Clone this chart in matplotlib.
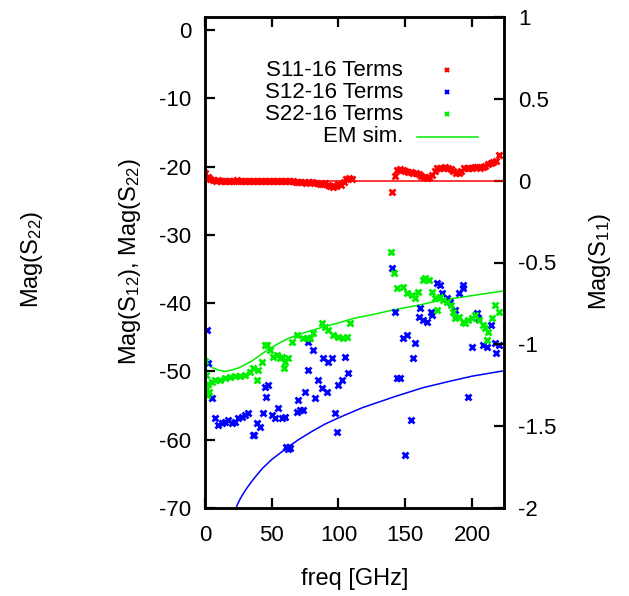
import matplotlib
matplotlib.use("Agg")
import matplotlib.pyplot as plt

plt.rcParams['font.family'] = ['Liberation Sans', 'DejaVu Sans']
plt.rcParams['mathtext.default'] = 'regular'
plt.rcParams['axes.unicode_minus'] = False

# S11 measured (right axis)
s11_freq = [0, 2, 4, 6, 8, 10, 12, 14, 16, 18, 20, 22, 24, 26, 28, 30, 32, 34, 36, 38,
            40, 42, 44, 46, 48, 50, 52, 54, 56, 58, 60, 62, 64, 66, 68, 70, 72, 74, 76, 78,
            80, 82, 84, 86, 88, 90, 92, 94, 96, 98, 100, 102, 104, 106, 108, 110,
            140, 142, 144, 146, 148, 150, 152, 154, 156, 158, 160, 162, 164, 166, 168, 170,
            172, 174, 176, 178, 180, 182, 184, 186, 188, 190, 192, 194, 196, 198, 200, 202,
            204, 206, 208, 210, 212, 214, 216, 218, 220]
s11_mag = [0.045, 0.02, 0.008, 0.003, 0.0, 0.002, 0.0, -0.002, 0.0, 0.001, -0.002, 0.0, 0.002, 0.0,
           0.001, -0.002, 0.0, -0.001, 0.0, -0.002, 0.0, 0.001, -0.002, -0.004, -0.002, 0.0, -0.003,
           -0.002, -0.004, -0.003, -0.002, -0.004, -0.005, -0.003, -0.006, -0.008, -0.006, -0.01,
           -0.012, -0.008, -0.01, -0.014, -0.012, -0.018, -0.02, -0.015, -0.025, -0.035, -0.04, -0.03,
           -0.02, -0.025, -0.01, 0.01, 0.015, 0.012,
           -0.068, 0.03, 0.065, 0.07, 0.065, 0.06, 0.055, 0.05, 0.047, 0.045, 0.04, 0.03, 0.02, 0.016,
           0.02, 0.035, 0.06, 0.075, 0.08, 0.078, 0.082, 0.08, 0.07, 0.06, 0.045, 0.045, 0.06, 0.075,
           0.08, 0.078, 0.08, 0.085, 0.082, 0.08, 0.085, 0.09, 0.1, 0.11, 0.112, 0.12, 0.155]

# S12 measured (left axis)
s12_freq = [1.5, 2.5, 5, 7.5, 10, 12.5, 15, 17.5, 20, 22.5, 25, 27.5, 30, 32, 36, 37, 39, 41,
            43.5, 45, 46, 47, 50, 52.5, 55, 58, 60, 61, 62, 63, 64, 69, 70, 71, 73.5, 75, 77,
            77.5, 81, 82.5, 85, 88, 88.5, 91.5, 92, 95, 97.5, 99, 100, 103, 105, 107.5,
            140, 142, 144, 146, 148, 150, 151, 154, 156, 157.5, 160, 161, 163.5, 166.5, 169,
            170, 174, 176, 177.5, 181.5, 183.5, 187.5, 190, 193, 193.5, 197, 200, 204, 204.5,
            208.5, 211.5, 214, 217.5, 218, 220]
s12_mag = [-43.9, -48.8, -53.9, -56.8, -57.8, -57.5, -57.4, -57.1, -57.5, -57.4, -56.8, -56.7,
           -56.4, -56.1, -59.3, -59.3, -57.5, -58.1, -56.1, -52.3, -53.7, -52.0, -56.4, -56.8,
           -55.3, -56.8, -56.7, -61.1, -61.3, -61.0, -61.2, -55.9, -54.2, -55.6, -55.6, -53.0,
           -49.8, -45.7, -46.9, -53.9, -51.2, -52.4, -48.0, -53.0, -48.6, -48.0, -56.1, -58.9,
           -52.0, -51.2, -47.9, -50.2,
           -34.8, -41.3, -51.0, -51.0, -45.1, -62.2, -44.7, -57.1, -48.0, -45.8, -42.0, -40.7,
           -42.5, -42.8, -41.3, -41.7, -37.0, -37.3, -38.5, -39.2, -39.8, -41.0, -38.5, -37.3,
           -37.8, -53.7, -46.4, -41.4, -42.2, -46.1, -46.4, -43.2, -45.8, -47.3, -46.1]

# S22 measured (left axis)
s22_freq = [0, 0.5, 1, 1.5, 2, 3, 5, 7.5, 11, 15, 19, 22.5, 26, 30, 34, 36, 39, 40, 43, 45,
            46.5, 49, 51, 54, 56, 58, 59, 60, 62, 65, 69, 73.5, 76.5, 79, 81, 88, 90, 92, 96,
            100, 103.5, 106.5, 109,
            139, 141.5, 144, 148, 151.5, 155, 157, 159.5, 163, 165, 167.5, 170, 172.5, 174,
            176, 178.5, 181.5, 184, 186, 187.5, 190, 193, 195, 197, 200, 202.5, 205, 208,
            210, 211.5, 212, 215, 217.5, 220]
s22_mag = [-48.5, -50.5, -52.7, -53.4, -51.8, -53.0, -51.5, -51.2, -51.2, -51.0, -50.8, -50.7,
           -50.7, -50.5, -50.1, -49.5, -51.2, -49.8, -48.6, -46.1, -46.1, -46.9, -47.9, -47.6,
           -48.0, -47.9, -49.5, -48.6, -48.0, -45.7, -44.7, -45.1, -45.1, -45.1, -44.4, -42.9,
           -43.5, -43.9, -44.7, -44.9, -45.1, -44.9, -42.9,
           -32.5, -35.6, -37.8, -37.6, -38.5, -38.8, -39.2, -38.4, -36.6, -36.3, -36.6, -38.4,
           -39.2, -41.0, -39.1, -39.5, -39.8, -40.3, -41.3, -42.2, -42.0, -42.8, -42.9, -42.5,
           -42.2, -41.7, -42.5, -43.2, -43.6, -45.4, -44.2, -42.2, -40.3, -41.3]

# EM simulation curves
em_s11_freq = [0, 224]
em_s11_mag = [0.0, 0.0]
em_s12_freq = [22, 24, 26, 28, 32, 37, 43, 50, 62, 70, 80, 90, 100, 118, 142, 163, 182, 200, 224]
em_s12_mag = [-71.2, -69.6, -68.8, -68.1, -66.9, -65.6, -64.2, -62.9, -61.1, -60.0, -58.8,
              -57.7, -56.8, -55.3, -53.7, -52.4, -51.5, -50.7, -49.9]
em_s22_freq = [0, 3, 6, 10, 15, 20, 25, 30, 35, 40, 45, 50, 56, 62, 70, 80, 90, 100, 112, 125,
               141, 160, 176, 200, 224]
em_s22_mag = [-48.5, -49.0, -49.5, -49.8, -50.0, -49.8, -49.5, -49.0, -48.5, -47.8, -47.1,
              -46.5, -45.8, -45.2, -44.6, -44.0, -43.4, -42.9, -42.2, -41.7, -41.0, -40.3,
              -39.6, -38.9, -38.2]

fig = plt.figure(figsize=(6.29, 5.96), dpi=100)
ax = fig.add_axes([205/629, 88/596, 299/629, 491/596])
ax2 = ax.twinx()

mk = dict(marker='x', linestyle='none', ms=5, mew=2)
ax2.plot(em_s11_freq, em_s11_mag, color='#ff0000', lw=1.1)
ax2.plot(s11_freq, s11_mag, color='#ff0000', **mk)
ax.plot(em_s12_freq, em_s12_mag, color='#0000ff', lw=1.1)
ax.plot(em_s22_freq, em_s22_mag, color='#00ee00', lw=1.1)
ax.plot(s12_freq, s12_mag, color='#0000ff', **mk)
ax.plot(s22_freq, s22_mag, color='#00ee00', **mk)

ax.set_xlim(0, 224)
ax.set_ylim(-70, 1.9)
ax2.set_ylim(-2, 1)
ax.set_xticks([0, 50, 100, 150, 200])
ax.set_yticks([0, -10, -20, -30, -40, -50, -60, -70])
ax2.set_yticks([1, 0.5, 0, -0.5, -1, -1.5, -2])
ax2.set_yticklabels(['1', '0.5', '0', '-0.5', '-1', '-1.5', '-2'])

for a in (ax, ax2):
    for s in a.spines.values():
        s.set_linewidth(1.8)
ax.tick_params(axis='x', direction='in', length=7, width=1.6, top=True, labelsize=16, pad=12)
ax.tick_params(axis='y', direction='in', length=7, width=1.6, labelsize=16, pad=10)
ax2.tick_params(axis='y', direction='in', length=7, width=1.6, labelsize=16, pad=10)

ax.set_xlabel('freq [GHz]', fontsize=17, labelpad=16)
fig.text(130/629, 1 - 261/596, 'Mag(S$_{12}$), Mag(S$_{22}$)', rotation=90,
         ha='center', va='center', fontsize=17)
fig.text(32/629, 1 - 259/596, 'Mag(S$_{22}$)', rotation=90, ha='center', va='center', fontsize=17)
fig.text(600/629, 1 - 261/596, 'Mag(S$_{11}$)', rotation=90, ha='center', va='center', fontsize=17)

# key, gnuplot style: text right aligned, sample to the right
key_labels = ['S11-16 Terms', 'S12-16 Terms', 'S22-16 Terms', 'EM sim.']
key_colors = ['#ff0000', '#0000ff', '#00ee00', '#00ee00']
key_rows = [0.892, 0.847, 0.802, 0.756]
for lab, col, yy in zip(key_labels, key_colors, key_rows):
    ax.text(0.662, yy, lab, transform=ax.transAxes, ha='right', va='center', fontsize=16)
    if lab == 'EM sim.':
        ax.plot([0.709, 0.913], [yy, yy], transform=ax.transAxes, color=col, lw=1.1)
    else:
        ax.plot([0.808], [yy], transform=ax.transAxes, color=col, marker='x',
                linestyle='none', ms=3.5, mew=1.6)

fig.savefig('out.png', dpi=100)
